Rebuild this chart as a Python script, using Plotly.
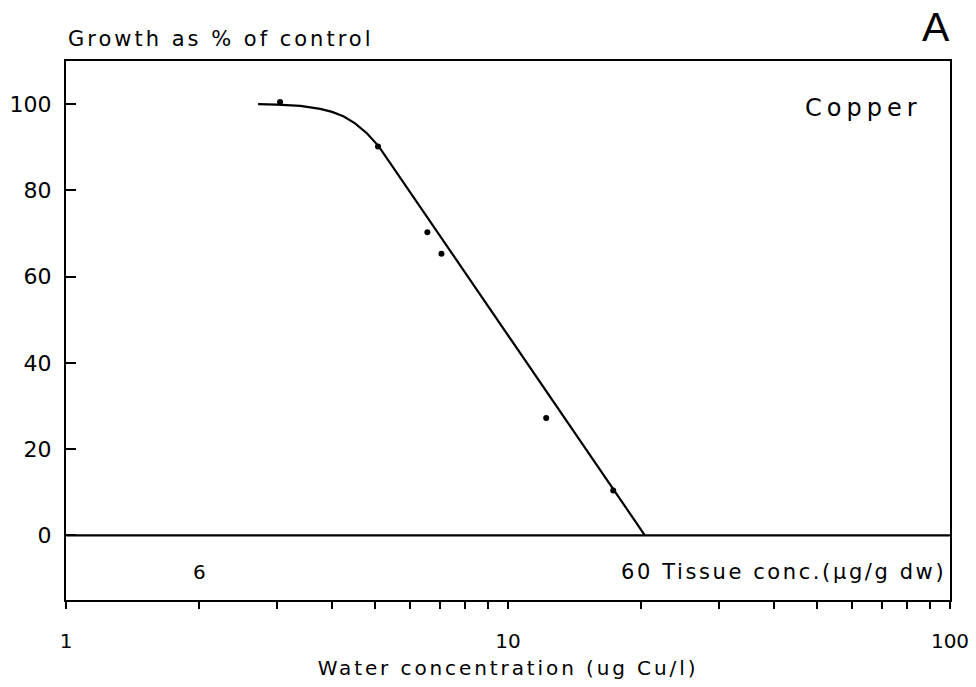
import plotly.graph_objects as go

# Fitted curve (water concentration ug Cu/l vs growth as % of control)
curve_x = [2.72, 3.0, 3.39, 3.76, 4.0, 4.24, 4.5, 4.8, 5.1, 20.4]
curve_y = [100.0, 99.9, 99.6, 98.9, 98.2, 97.2, 95.6, 93.2, 90.2, 0.0]

# Observed points
points_x = [3.05, 5.08, 6.57, 7.07, 12.2, 17.3]
points_y = [100.5, 90.2, 70.3, 65.3, 27.2, 10.4]

# Axis ticks
y_ticks = [0, 20, 40, 60, 80, 100]
x_minor = [1, 2, 3, 4, 5, 6, 7, 8, 9, 10, 20, 30, 40, 50, 60, 70, 80, 90, 100]
x_labels = {1: "1", 10: "10", 100: "100"}

# Tissue concentration labels
tissue_left_x = 2
tissue_left_text = "6"
tissue_right_text = "60 Tissue conc.(µg/g dw)"

FONT = "DejaVu Sans"


def spaced(text, px):
    return f'<span style="letter-spacing:{px}px">{text}</span>'


fig = go.Figure()
fig.add_trace(go.Scatter(x=curve_x, y=curve_y, mode="lines",
                         line=dict(color="black", width=2.2),
                         hoverinfo="skip", showlegend=False))
fig.add_trace(go.Scatter(x=points_x, y=points_y, mode="markers",
                         marker=dict(color="black", size=6),
                         showlegend=False))

fig.add_shape(type="line", xref="paper", yref="y", x0=0, x1=1, y0=0, y1=0,
              line=dict(color="black", width=2.2))

fig.update_xaxes(type="log", range=[0, 2], automargin=False,
                 tickvals=x_minor,
                 ticktext=[x_labels.get(v, "") for v in x_minor],
                 ticks="outside", ticklen=7, tickwidth=1.5, tickcolor="black",
                 showline=True, linecolor="black", linewidth=2.2, mirror=True,
                 showgrid=False, zeroline=False,
                 ticklabelstandoff=15,
                 tickfont=dict(family=FONT, size=20, color="black"),
                 title=dict(text=spaced("Water concentration (ug Cu/l)", 2.9),
                            font=dict(family=FONT, size=20, color="black"),
                            standoff=9))
fig.update_yaxes(range=[-15, 110], tickvals=y_ticks, automargin=False,
                 ticks="inside", ticklen=10, tickwidth=1.5, tickcolor="black",
                 showline=True, linecolor="black", linewidth=2.2, mirror=True,
                 showgrid=False, zeroline=False,
                 ticklabelstandoff=8,
                 tickfont=dict(family=FONT, size=22, color="black"))

annotations = [
    dict(text=spaced("Growth as % of control", 3.0), xref="paper", yref="paper",
         x=0, y=1, xanchor="left", yanchor="bottom", yshift=8, showarrow=False,
         font=dict(family=FONT, size=21, color="black")),
    dict(text="A", xref="paper", yref="paper", x=1, y=1.1095, xanchor="right",
         yanchor="top", xshift=2, showarrow=False,
         font=dict(family="Liberation Sans", size=41, color="black")),
    dict(text=spaced("Copper", 5), xref="paper", yref="y", x=1, y=100,
         xanchor="right", yanchor="middle", xshift=-26, yshift=-4, showarrow=False,
         font=dict(family=FONT, size=24, color="black")),
    dict(text=tissue_left_text, xref="x", yref="y", x=0.30103, y=-8.5,
         xanchor="center", yanchor="middle", showarrow=False,
         font=dict(family=FONT, size=20, color="black")),
    dict(text=spaced(tissue_right_text, 2.6), xref="paper", yref="y", x=1, y=-8.5,
         xanchor="right", yanchor="middle", xshift=-2, showarrow=False,
         font=dict(family=FONT, size=21, color="black")),
]

fig.update_layout(width=976, height=687,
                  margin=dict(l=66, r=26, t=61, b=87),
                  paper_bgcolor="white", plot_bgcolor="white",
                  font=dict(family=FONT, color="black"),
                  annotations=annotations, showlegend=False)

fig.write_html("out.html", config={"displayModeBar": False},
               post_script="document.body.style.margin='0';document.body.style.padding='0';")
